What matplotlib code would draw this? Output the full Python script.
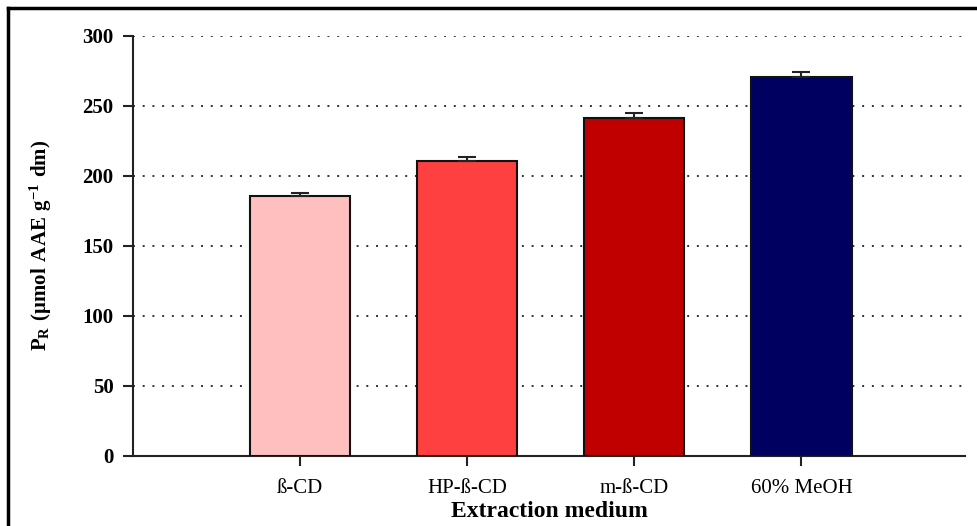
import matplotlib.pyplot as plt
from matplotlib.lines import Line2D

plt.rcParams['font.family'] = ['Liberation Serif', 'DejaVu Serif']
plt.rcParams['mathtext.fontset'] = 'custom'
plt.rcParams['mathtext.rm'] = 'Liberation Serif:bold'
plt.rcParams['mathtext.bf'] = 'Liberation Serif:bold'

media = ['ß-CD', 'HP-ß-CD', 'm-ß-CD', '60% MeOH']
pr_values = [185.7, 210.7, 241.0, 270.3]
pr_err = [2.2, 2.7, 3.8, 3.6]
bar_colors = ['#FFBFBF', '#FF4040', '#C00000', '#000060']

fig = plt.figure(figsize=(9.77, 5.26), dpi=100)
ax = fig.add_axes([0.136, 0.134, 0.852, 0.798])

x = range(1, len(media) + 1)
ax.bar(x, pr_values, width=0.6, color=bar_colors, edgecolor='#111111',
       linewidth=1.5, zorder=3)
ax.errorbar(x, pr_values, yerr=[[0] * len(media), pr_err], fmt='none',
            ecolor='#222222', elinewidth=1.5, capsize=6.5, capthick=1.5, zorder=4)

ax.set_xlim(0, 4.98)
ax.set_ylim(0, 300)
ax.set_yticks(range(0, 301, 50))
ax.set_xticks(list(x))
ax.set_xticklabels(media, fontsize=15)
for lab in ax.get_yticklabels():
    lab.set_fontweight('bold')
    lab.set_fontsize(15)
ax.yaxis.grid(True, linestyle=(0, (1, 4)), color='#333333', linewidth=1.4, zorder=0)
ax.spines['top'].set_visible(False)
ax.spines['right'].set_visible(False)
for s in ['left', 'bottom']:
    ax.spines[s].set_linewidth(1.5)
    ax.spines[s].set_color('#222222')
ax.tick_params(axis='both', direction='out', length=7, width=1.5, color='#222222')
ax.tick_params(axis='y', pad=7)
ax.tick_params(axis='x', pad=10)

ax.set_xlabel('Extraction medium', fontsize=17, fontweight='bold', labelpad=2)
ax.set_ylabel(r'$\mathrm{P_R\ (\mu mol\ AAE\ g^{-1}\ dm)}$', fontsize=15, labelpad=20)

# frame drawn around the figure (only top and left visible)
fig.add_artist(Line2D([0.0085, 1.0], [0.985, 0.985], color='black', linewidth=2.5,
                      transform=fig.transFigure))
fig.add_artist(Line2D([0.0085, 0.0085], [0.0, 0.985], color='black', linewidth=2.5,
                      transform=fig.transFigure))

fig.savefig('out.png', dpi=100)
